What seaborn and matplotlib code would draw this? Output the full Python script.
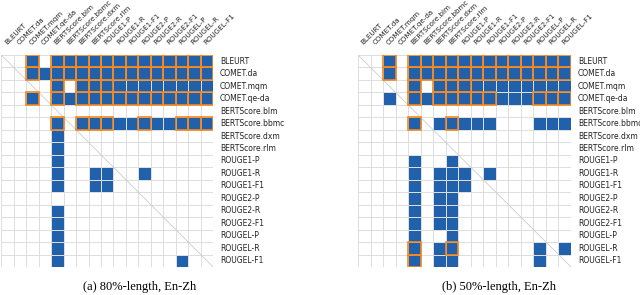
import numpy as np
import matplotlib
matplotlib.use("Agg")
import matplotlib.pyplot as plt
import seaborn as sns
from matplotlib.colors import ListedColormap
from matplotlib.patches import Rectangle

metrics = ["BLEURT", "COMET.da", "COMET.mqm", "COMET.qe-da",
           "BERTScore.blm", "BERTScore.bbmc", "BERTScore.dxm", "BERTScore.rlm",
           "ROUGE1-P", "ROUGE1-R", "ROUGE1-F1",
           "ROUGE2-P", "ROUGE2-R", "ROUGE2-F1",
           "ROUGEL-P", "ROUGEL-R", "ROUGEL-F1"]

# '.' = not significant, 'b' = significant (blue), 'o' = significant + highlighted (orange box)
grid_80 = [
    "..o.ooooooooooooo",
    "..obooooooooooooo",
    "....o.ooobbbbbbbb",
    "..o.obooooooooooo",
    ".................",
    "....o.ooobbobbooo",
    "....b............",
    "....b............",
    "....b............",
    "....b..bb..b.....",
    "....b..bb........",
    ".................",
    "....b............",
    "....b............",
    "....b............",
    "....b............",
    "....b.........b..",
]

grid_50 = [
    "..o.ooooooooooooo",
    "..o.ooooooooooooo",
    "....o.ooobbbbbbbb",
    "..b.obooooobbbooo",
    ".................",
    "....o.bobbb...bbb",
    ".................",
    ".................",
    "....b..b.........",
    "....b.bbb.b......",
    "....b.bbb........",
    "....b.bb.........",
    "....b.bb.........",
    "....b.bb.........",
    "....b..b.........",
    "....o.bo......b.b",
    "....o.bb......b..",
]

captions = ["(a) 80%-length, En-Zh", "(b) 50%-length, En-Zh"]

BLUE = "#2160aa"
ORANGE = "#f5881f"


def draw(ax, rows):
    sig = np.array([[0 if c == "." else 1 for c in r] for r in rows])
    sns.heatmap(sig, ax=ax, cmap=ListedColormap(["white", BLUE]), vmin=0, vmax=1,
                cbar=False, linewidths=0.6, linecolor="#dedede",
                xticklabels=metrics, yticklabels=metrics)
    # orange boxes around highlighted cells
    for i, r in enumerate(rows):
        for j, c in enumerate(r):
            if c == "o":
                ax.add_patch(Rectangle((j, i), 1, 1, fill=False, ec=ORANGE,
                                       lw=1.2, zorder=3))
    n = len(metrics)
    ax.plot([0, n], [0, n], color="#cccccc", lw=0.6, zorder=2)
    ax.xaxis.tick_top()
    ax.yaxis.tick_right()
    ax.tick_params(length=0)
    ax.tick_params(axis="x", pad=6.5, labelsize=5.1, labelcolor="#222222")
    ax.tick_params(axis="y", pad=5, labelsize=5.5, labelcolor="#222222")
    plt.setp(ax.get_xticklabels(), rotation=45, ha="left", va="bottom",
             rotation_mode="anchor")
    plt.setp(ax.get_yticklabels(), rotation=0, va="center")


fig = plt.figure(figsize=(6.4, 2.95), dpi=100)
ax_a = fig.add_axes([0.002, 0.095, 0.331, 0.7186])
ax_b = fig.add_axes([0.5594, 0.095, 0.3328, 0.7186])

draw(ax_a, grid_80)
draw(ax_b, grid_50)

fig.text(140 / 640, 0.027, captions[0], ha="center", va="center",
         family="Liberation Serif", fontsize=9)
fig.text(499 / 640, 0.027, captions[1], ha="center", va="center",
         family="Liberation Serif", fontsize=9)

fig.savefig("out.png", dpi=100)
